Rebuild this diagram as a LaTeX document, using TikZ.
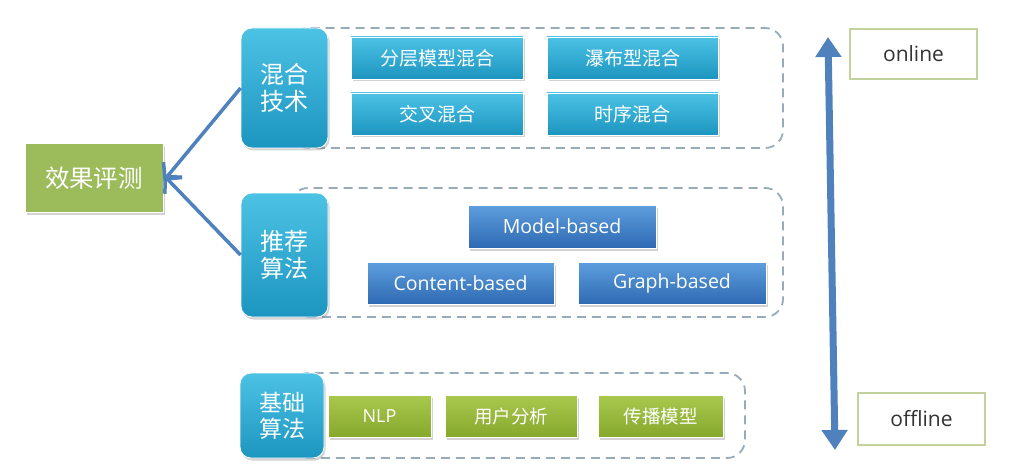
\documentclass[tikz,border=0pt]{standalone}
\usepackage{fontspec}
\setmainfont{Open Sans}
\newfontfamily\cjk{Noto Sans CJK SC}
\usetikzlibrary{arrows.meta,shadows}
\definecolor{cyanT}{HTML}{4CC2E4}
\definecolor{cyanB}{HTML}{1C95C0}
\definecolor{blueT}{HTML}{5E9EDD}
\definecolor{blueB}{HTML}{2E6AB3}
\definecolor{greenT}{HTML}{A9C94E}
\definecolor{greenB}{HTML}{86A82C}
\definecolor{evalG}{HTML}{9CBB5A}
\definecolor{dashC}{HTML}{97ABBB}
\definecolor{arrC}{HTML}{4F81BD}
\definecolor{tagB}{HTML}{C3D19C}
\tikzset{
  shad/.style={drop shadow={opacity=0.35,shadow xshift=1.5pt,shadow yshift=-2.5pt}},
  catbox/.style={shad,draw=white,line width=0.8pt,rounded corners=11pt,top color=cyanT,bottom color=cyanB,text=white,font=\cjk\fontsize{24}{27}\selectfont,align=center,inner sep=0pt},
  mixbox/.style={shad,draw=white,line width=0.6pt,top color=cyanT,bottom color=cyanB,text=white,font=\cjk\fontsize{19}{21}\selectfont,inner sep=0pt},
  algbox/.style={shad,draw=white,line width=0.6pt,top color=blueT,bottom color=blueB,text=white,font=\fontsize{19.5}{21}\selectfont,inner sep=0pt},
  basebox/.style={shad,draw=white,line width=0.6pt,top color=greenT,bottom color=greenB,text=white,inner sep=0pt},
  container/.style={draw=dashC,line width=1.8pt,dash pattern=on 9pt off 6pt,rounded corners=18pt},
  tag/.style={draw=tagB,line width=1.5pt,fill=white,text=black!80,font=\fontsize{21}{23}\selectfont,inner sep=0pt},
  linkarr/.style={draw=arrC,line width=3.5pt,-{Straight Barb[length=12pt,width=24pt,line width=3.5pt]}},
  scalearr/.style={draw=arrC,line width=7pt,{Triangle[length=20pt,width=25pt]}-{Triangle[length=20pt,width=25pt]}}
}
\begin{document}
\begin{tikzpicture}[x=1pt,y=-1pt]
\useasboundingbox (0,0) rectangle (1015,476);
% containers
\draw[container] (290,28) rectangle (783,148);
\draw[container] (290,188) rectangle (783,317);
\draw[container] (290,373) rectangle (745,458);
% category boxes
\node[catbox,minimum width=87pt,minimum height=120pt] (mix) at (284.5,88) {混合\\技术};
\node[catbox,minimum width=87pt,minimum height=124pt] (rec) at (284.5,255) {推荐\\算法};
\node[catbox,font=\cjk\fontsize{23}{26}\selectfont,minimum width=84pt,minimum height=85pt] (base) at (282,415.5) {基础\\算法};
% evaluation
\node[shad,draw=white,line width=1pt,fill=evalG,text=white,font=\cjk\fontsize{24.5}{26}\selectfont,minimum width=138pt,minimum height=68pt,inner sep=0pt] (eval) at (94,178) {效果评测};
% mix boxes
\node[mixbox,minimum width=172pt,minimum height=42pt] (m1) at (437,58) {分层模型混合};
\node[mixbox,minimum width=171pt,minimum height=42pt] (m2) at (632.5,58) {瀑布型混合};
\node[mixbox,minimum width=172pt,minimum height=42pt] (m3) at (437,114) {交叉混合};
\node[mixbox,minimum width=171pt,minimum height=42pt] (m4) at (632.5,114) {时序混合};
% algorithm boxes
\node[algbox,minimum width=188pt,minimum height=43pt] (a1) at (562,226.5) {Model-based};
\node[algbox,minimum width=187pt,minimum height=42pt] (a2) at (460.5,283) {Content-based};
\node[algbox,minimum width=188pt,minimum height=42pt] (a3) at (672,283) {Graph-based};
% base boxes
\node[basebox,font=\fontsize{18}{20}\selectfont,minimum width=103pt,minimum height=42pt] (b1) at (379.5,416) {NLP};
\node[basebox,font=\cjk\fontsize{18.5}{20}\selectfont,minimum width=132pt,minimum height=42pt] (b2) at (511,416) {用户分析};
\node[basebox,font=\cjk\fontsize{18.5}{20}\selectfont,minimum width=125pt,minimum height=42pt] (b3) at (660.5,416) {传播模型};
% links
\draw[linkarr] (mix.west) -- ([yshift=-3pt]eval.east);
\draw[linkarr] (rec.west) -- ([yshift=3pt]eval.east);
% online/offline
\node[tag,minimum width=127pt,minimum height=50pt] (on) at (913.5,54) {online};
\node[tag,minimum width=127pt,minimum height=52pt] (off) at (921.5,419) {offline};
\coordinate (top) at (828,37);
\coordinate (bot) at (835,450);
\draw[scalearr] (top) -- (bot);
\end{tikzpicture}
\end{document}
